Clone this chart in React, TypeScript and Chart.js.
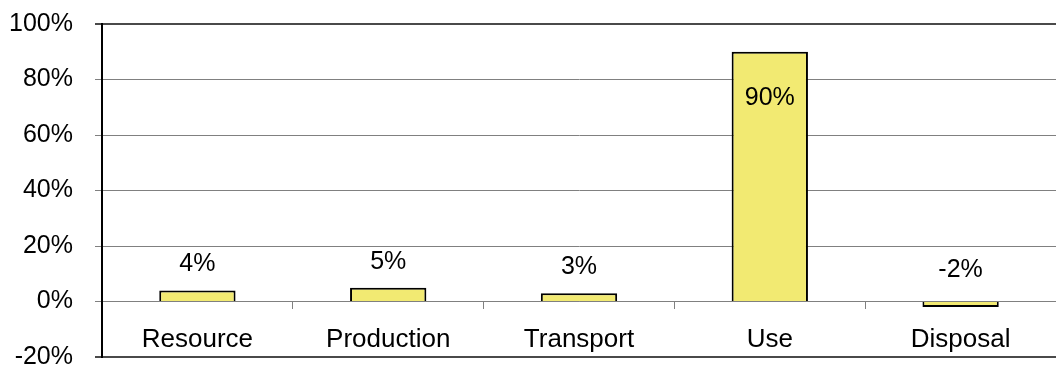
import React, { useEffect, useRef } from "react";
import { Chart, registerables } from "chart.js";

Chart.register(...registerables);

const categories = ["Resource", "Production", "Transport", "Use", "Disposal"];
const shares = [4, 5, 3, 90, -2];
const yMin = -20;
const yMax = 100;
const yStep = 20;

const FONT = "'Liberation Sans', Arial, sans-serif";

const valueLabels = {
  id: "valueLabels",
  afterDatasetsDraw(chart: any) {
    const ctx = chart.ctx;
    const meta = chart.getDatasetMeta(0);
    ctx.save();
    ctx.font = `25px ${FONT}`;
    ctx.fillStyle = "#000";
    ctx.textAlign = "center";
    ctx.textBaseline = "middle";
    meta.data.forEach((bar: any, i: number) => {
      const v = shares[i];
      let y;
      if (v > 50) y = bar.y + 46;
      else if (v >= 0) y = bar.y - 26;
      else y = bar.base - 32;
      ctx.fillText(`${v}%`, bar.x, y);
    });
    ctx.restore();
  },
};

export default function App() {
  const ref = useRef<HTMLCanvasElement>(null);
  useEffect(() => {
    if (!ref.current) return;
    const chart = new Chart(ref.current, {
      type: "bar",
      data: {
        labels: categories,
        datasets: [
          {
            data: shares,
            backgroundColor: "#F2EA72",
            borderColor: "#000000",
            borderWidth: 2,
            barPercentage: 0.4,
            categoryPercentage: 1,
          },
        ],
      },
      options: {
        responsive: false,
        animation: false,
        layout: { padding: { top: 24, bottom: 10, left: 0, right: 0 } },
        plugins: { legend: { display: false }, tooltip: { enabled: false } },
        scales: {
          x: {
            position: { y: 0 } as any,
            offset: true,
            afterFit: (s: any) => {
              s.height = 0;
              s.paddingTop = 0;
              s.paddingBottom = 0;
              s.paddingLeft = 0;
              s.paddingRight = 0;
            },
            grid: {
              offset: true,
              drawOnChartArea: false,
              drawTicks: true,
              tickLength: 7,
              color: "#808080",
            },
            border: { display: true, color: "#808080", width: 1 },
            ticks: {
              font: { family: FONT, size: 26 },
              color: "#000",
              padding: 16,
              maxRotation: 0,
            },
          },
          y: {
            min: yMin,
            max: yMax,
            afterFit: (s: any) => {
              s.width = 102;
              s.paddingTop = 0;
              s.paddingBottom = 0;
            },
            ticks: {
              stepSize: yStep,
              font: { family: FONT, size: 25 },
              color: "#000",
              padding: 22,
              callback: (v: any) => `${v}%`,
            },
            grid: {
              tickLength: 7,
              color: (c: any) =>
                c.tick && (c.tick.value === yMax || c.tick.value === yMin) ? "#4a4a4a" : "#808080",
              lineWidth: (c: any) =>
                c.tick && (c.tick.value === yMax || c.tick.value === yMin) ? 2 : 1,
            },
            border: { display: true, color: "#000", width: 2 },
          },
        },
      },
      plugins: [valueLabels],
    });
    return () => chart.destroy();
  }, []);
  return (
    <canvas
      ref={ref}
      width={1056}
      height={367}
      style={{ position: "absolute", left: 0, top: 0, display: "block" }}
    />
  );
}
